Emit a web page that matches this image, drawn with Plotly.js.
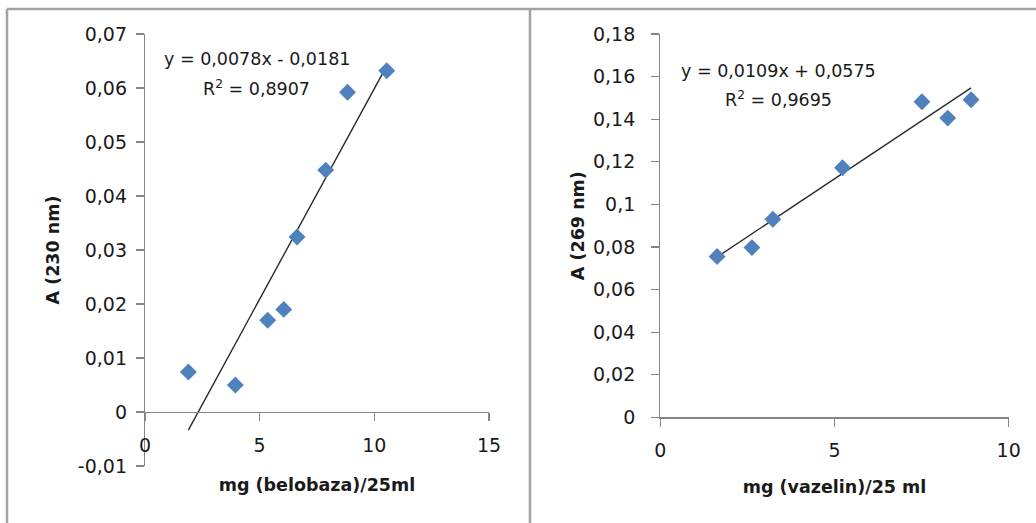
<!DOCTYPE html>
<html>
<head>
<meta charset="utf-8">
<script src="https://cdn.plot.ly/plotly-3.0.1.min.js"></script>
<style>
  html, body { margin: 0; padding: 0; background: #ffffff; }
  #chart { width: 1036px; height: 523px; }
</style>
</head>
<body>
<div id="chart"></div>
<script>
// ---------- DATA ----------
// Left chart: belobaza, A (230 nm)
const belobazaMg = [1.89, 3.94, 5.35, 6.05, 6.63, 7.88, 8.83, 10.54];
const absorb230  = [0.0074, 0.0050, 0.0170, 0.0190, 0.0324, 0.0448, 0.0592, 0.0632];
const fit230 = { slope: 0.0078, intercept: -0.0181 };
const eq230Text = "y = 0,0078x - 0,0181";
const r2_230Text = "R<sup>2</sup> = 0,8907";

// Right chart: vazelin, A (269 nm)
const vazelinMg = [1.63, 2.63, 3.23, 5.23, 7.51, 8.25, 8.92];
const absorb269 = [0.0755, 0.0797, 0.0930, 0.1172, 0.1482, 0.1405, 0.1491];
const fit269 = { slope: 0.0109, intercept: 0.0575 };
const eq269Text = "y = 0,0109x + 0,0575";
const r2_269Text = "R<sup>2</sup> = 0,9695";

// Axis ticks & labels
const leftXTicks  = [0, 5, 10, 15];
const leftXText   = ["0", "5", "10", "15"];
const leftYTicks  = [-0.01, 0, 0.01, 0.02, 0.03, 0.04, 0.05, 0.06, 0.07];
const leftYText   = ["-0,01", "0", "0,01", "0,02", "0,03", "0,04", "0,05", "0,06", "0,07"];
const rightXTicks = [0, 5, 10];
const rightXText  = ["0", "5", "10"];
const rightYTicks = [0, 0.02, 0.04, 0.06, 0.08, 0.1, 0.12, 0.14, 0.16, 0.18];
const rightYText  = ["0", "0,02", "0,04", "0,06", "0,08", "0,1", "0,12", "0,14", "0,16", "0,18"];

const leftXTitle  = "mg (belobaza)/25ml";
const leftYTitle  = "A (230 nm)";
const rightXTitle = "mg (vazelin)/25 ml";
const rightYTitle = "A (269 nm)";

// ---------- LAYOUT HELPERS ----------
const W = 1036, H = 523;
const fx = p => p / W;
const fy = p => 1 - p / H;

const FONT = "DejaVu Sans";
const TEXT_COLOR = "#1a1a1a";
const AXIS_COLOR = "#868686";
const MARKER_COLOR = "#4F81BD";
const BORDER_COLOR = "#a3a3a3";

const leftDomX  = [fx(145), fx(489)];
const leftDomY  = [fy(466), fy(34)];
const rightDomX = [fx(660.3), fx(1008.7)];
const rightDomY = [fy(417.3), fy(34)];
const leftYRange = [-0.01, 0.07];
const rightYRange = [0, 0.18];

// position of left x axis at y = 0
const leftXPos = leftDomY[0] + (0 - leftYRange[0]) / (leftYRange[1] - leftYRange[0]) * (leftDomY[1] - leftDomY[0]);

function trend(xs, fit) {
  const x0 = Math.min(...xs), x1 = Math.max(...xs);
  return { x: [x0, x1], y: [fit.slope * x0 + fit.intercept, fit.slope * x1 + fit.intercept] };
}
const t230 = trend(belobazaMg, fit230);
const t269 = trend(vazelinMg, fit269);

const markerStyle = { symbol: "diamond", size: 13, color: MARKER_COLOR, line: { width: 0 } };
const lineStyle = { color: "#2a2a2a", width: 1.4 };

const traces = [
  { type: "scatter", mode: "lines", x: t230.x, y: t230.y, xaxis: "x", yaxis: "y", line: lineStyle, hoverinfo: "skip", showlegend: false },
  { type: "scatter", mode: "markers", x: belobazaMg, y: absorb230, xaxis: "x", yaxis: "y", marker: markerStyle, showlegend: false, cliponaxis: false },
  { type: "scatter", mode: "lines", x: t269.x, y: t269.y, xaxis: "x2", yaxis: "y2", line: lineStyle, hoverinfo: "skip", showlegend: false },
  { type: "scatter", mode: "markers", x: vazelinMg, y: absorb269, xaxis: "x2", yaxis: "y2", marker: markerStyle, showlegend: false, cliponaxis: false }
];

const tickFont = { family: FONT, size: 19, color: TEXT_COLOR };
const titleFont = { family: FONT, size: 17.5, color: TEXT_COLOR, weight: "bold" };
const baseAxis = {
  showgrid: false, zeroline: false, showline: true, linecolor: AXIS_COLOR, linewidth: 1.2,
  ticks: "outside", ticklen: 8, tickcolor: AXIS_COLOR, tickwidth: 1.2,
  tickfont: tickFont, tickmode: "array", fixedrange: true, automargin: false
};

const annFont = { family: FONT, size: 17.5, color: TEXT_COLOR };

const layout = {
  width: W, height: H,
  margin: { l: 0, r: 0, t: 0, b: 0 },
  paper_bgcolor: "#ffffff", plot_bgcolor: "rgba(0,0,0,0)",
  showlegend: false,
  font: { family: FONT, color: TEXT_COLOR },
  xaxis: Object.assign({}, baseAxis, {
    domain: leftDomX, range: [0, 15], tickvals: leftXTicks, ticktext: leftXText,
    anchor: "free", position: leftXPos, ticklabelstandoff: 8,
    title: { text: leftXTitle, font: titleFont, standoff: 23 }
  }),
  yaxis: Object.assign({}, baseAxis, {
    domain: leftDomY, range: leftYRange, tickvals: leftYTicks, ticktext: leftYText,
    anchor: "x", ticklabelstandoff: 5,
    title: { text: leftYTitle, font: titleFont, standoff: 13 }
  }),
  xaxis2: Object.assign({}, baseAxis, {
    domain: rightDomX, range: [0, 10], tickvals: rightXTicks, ticktext: rightXText,
    anchor: "y2", ticklabelstandoff: 8,
    title: { text: rightXTitle, font: titleFont, standoff: 20 }
  }),
  yaxis2: Object.assign({}, baseAxis, {
    domain: rightDomY, range: rightYRange, tickvals: rightYTicks, ticktext: rightYText,
    anchor: "x2", ticklabelstandoff: 12,
    title: { text: rightYTitle, font: titleFont, standoff: 3 }
  }),
  shapes: [
    { type: "line", xref: "paper", yref: "paper", x0: fx(7), x1: fx(1036), y0: fy(9), y1: fy(9), line: { color: BORDER_COLOR, width: 2.5 } },
    { type: "line", xref: "paper", yref: "paper", x0: fx(7), x1: fx(7), y0: fy(9), y1: fy(523), line: { color: BORDER_COLOR, width: 2.5 } },
    { type: "line", xref: "paper", yref: "paper", x0: fx(530), x1: fx(530), y0: fy(9), y1: fy(523), line: { color: BORDER_COLOR, width: 2.5 } }
  ],
  annotations: [
    { text: eq230Text, xref: "paper", yref: "paper", x: fx(256.5), y: fy(59), xanchor: "center", yanchor: "middle", showarrow: false, font: annFont },
    { text: r2_230Text, xref: "paper", yref: "paper", x: fx(256), y: fy(88), xanchor: "center", yanchor: "middle", showarrow: false, font: annFont },
    { text: eq269Text, xref: "paper", yref: "paper", x: fx(778), y: fy(71), xanchor: "center", yanchor: "middle", showarrow: false, font: annFont },
    { text: r2_269Text, xref: "paper", yref: "paper", x: fx(778), y: fy(99), xanchor: "center", yanchor: "middle", showarrow: false, font: annFont }
  ]
};

Plotly.newPlot("chart", traces, layout, { displayModeBar: false, staticPlot: true, responsive: false });
</script>
</body>
</html>
